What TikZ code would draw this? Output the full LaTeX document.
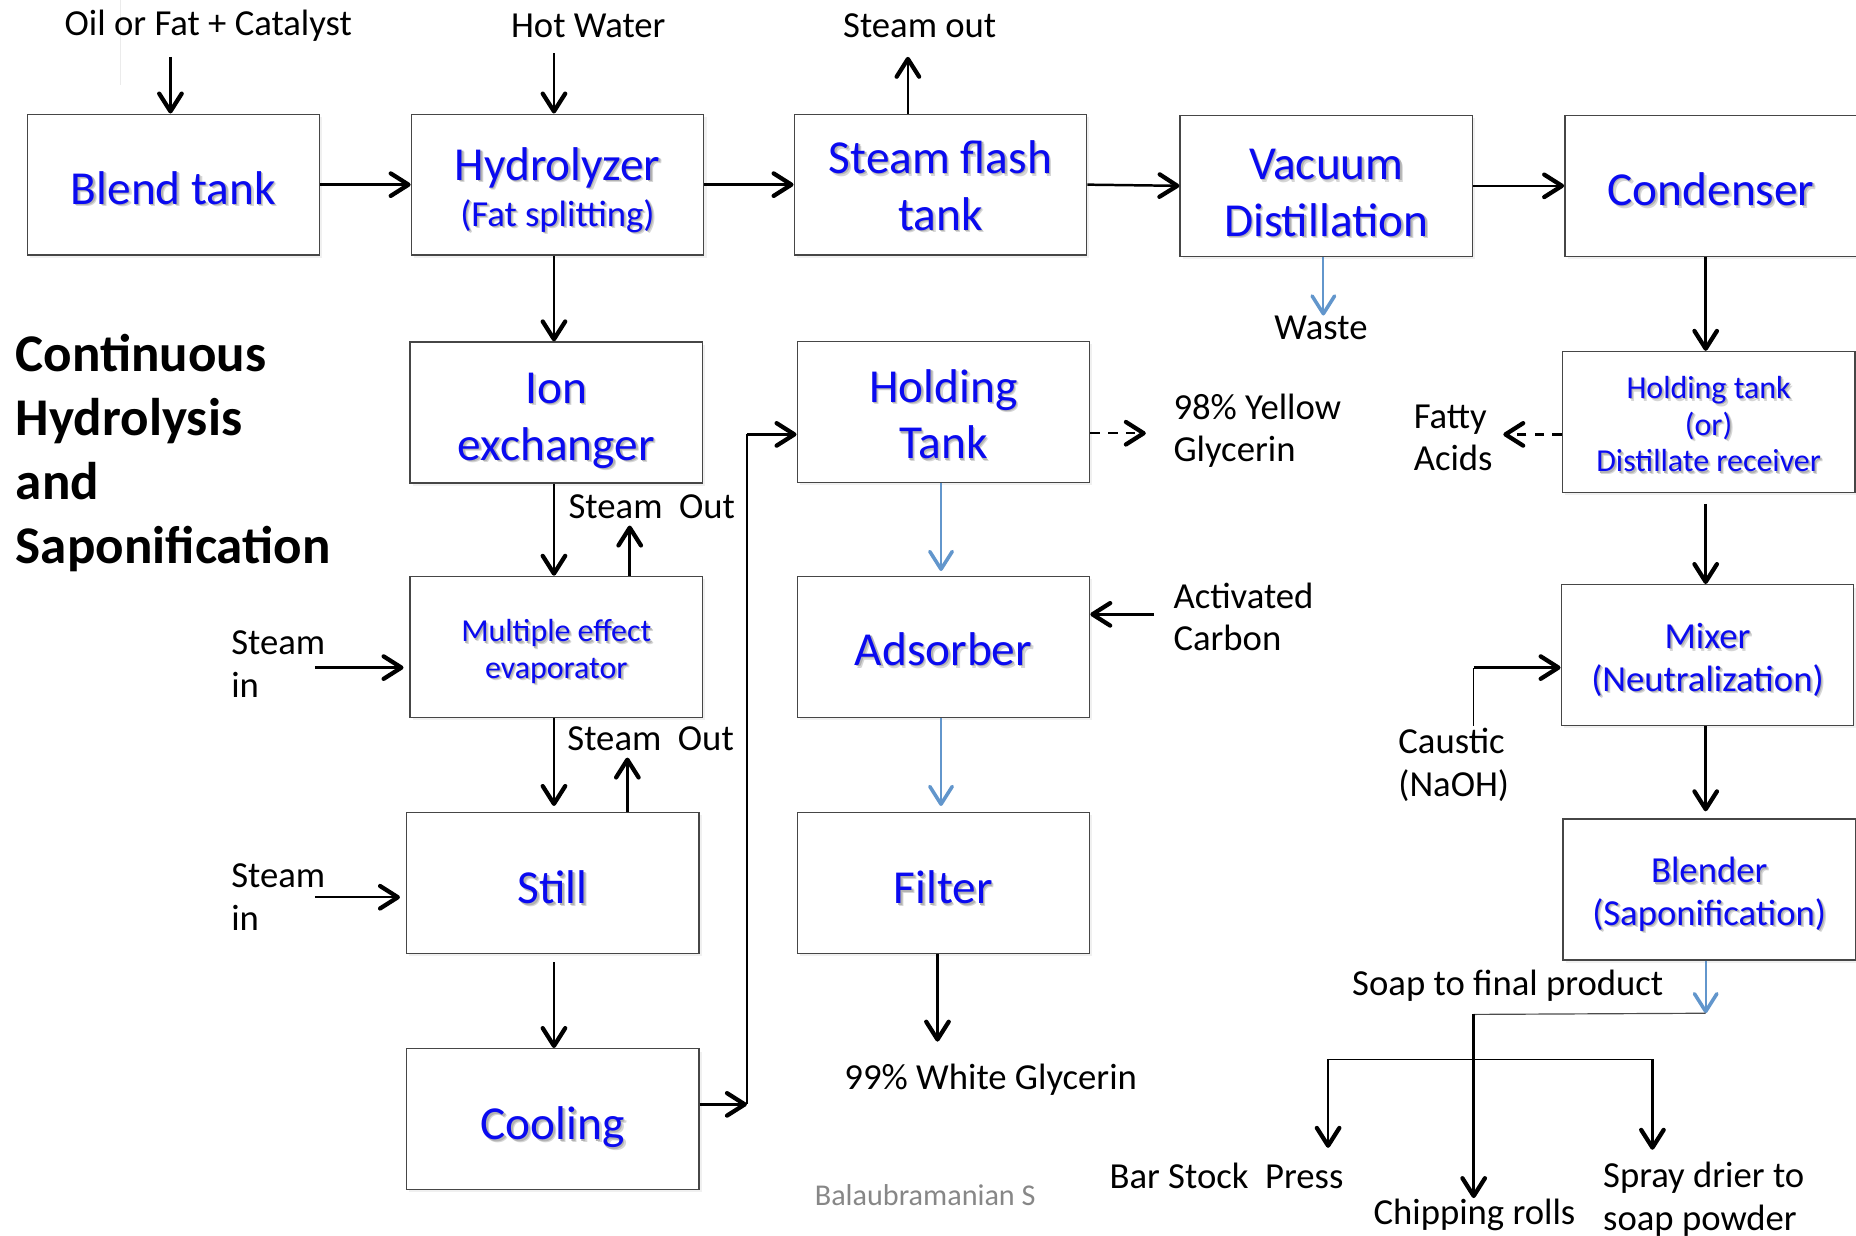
\documentclass[tikz,border=0pt]{standalone}
\usepackage{fontspec}
\setmainfont{Carlito}
\usetikzlibrary{arrows.meta,shadows}

\definecolor{tblue}{RGB}{10,10,240}
\definecolor{fblue}{RGB}{98,150,204}
\definecolor{edgegray}{RGB}{70,70,70}
\definecolor{signgray}{RGB}{135,135,135}

% font sizes
\newcommand\fbig{\fontsize{20}{24}\selectfont}
\newcommand\fmid{\fontsize{15.5}{18}\selectfont}
\newcommand\fsm{\fontsize{13.5}{15.5}\selectfont}
\newcommand\ftitle{\fontsize{22.4}{27}\selectfont\bfseries}

% blue label with a soft grey drop shadow, inked a little below its box
\def\shdrop{2.5pt}
\newcommand\sh[1]{\leavevmode\raisebox{-\shdrop}[\height][\depth]{\rlap{\kern1.1pt\raisebox{-1.1pt}{\color{black!16}#1}}\rlap{\kern0.6pt\raisebox{-0.6pt}{\color{black!30}#1}}#1}}

\begin{document}
\begin{tikzpicture}[x=0.5pt,y=-0.5pt,
  procbox/.style={draw=edgegray, line width=0.6pt, fill=white,
    minimum width=123.5pt, minimum height=59.5pt, inner sep=0pt,
    text=tblue, align=center, font=\fbig,
    drop shadow={opacity=0.12, shadow xshift=1.2pt, shadow yshift=-1.2pt}},
  txtdrop/.code={\def\shdrop{#1}},
  lbl/.style={inner sep=0pt, font=\fmid, align=left, text=black},
  arr/.style={line width=1.05pt, -{Straight Barb[length=7.5pt,width=9.5pt,line width=1.8pt,round]}},
  barr/.style={draw=fblue, line width=0.8pt, -{Straight Barb[length=7.5pt,width=9.5pt,line width=1.5pt,round]}},
  darr/.style={arr, dash pattern=on 4pt off 3.5pt},
  thinl/.style={line width=0.5pt}]

\useasboundingbox (0,0) rectangle (1568,1044);
\draw[black!8, line width=0.5pt] (102,0) -- (102,72);

% ---- process units ----
\node[procbox, txtdrop=2pt] (blend) at (146.5,156) {\sh{Blend tank}};
\node[procbox, txtdrop=2.75pt] (hydro) at (471,156) {\sh{Hydrolyzer}\\[-4.5pt]{\fmid\sh{(Fat splitting)}}};
\node[procbox, txtdrop=1pt] (flash) at (794.5,156) {\sh{Steam flash}\\\sh{tank}};
\node[procbox, txtdrop=3.5pt] (vac) at (1120.5,157) {\sh{Vacuum}\\\sh{Distillation}};
\node[procbox, txtdrop=2pt] (cond) at (1445.5,157) {\sh{Condenser}};
\node[procbox, txtdrop=4pt] (ion) at (470,348.5) {\sh{Ion}\\\sh{exchanger}};
\node[procbox, txtdrop=1.5pt] (hold) at (797,348) {\sh{Holding}\\\sh{Tank}};
\node[procbox, font=\fsm, txtdrop=1.5pt] (recv) at (1443.5,356.5) {\sh{Holding tank}\\\sh{(or)}\\\sh{Distillate receiver}};
\node[procbox, font=\fsm, txtdrop=2.5pt] (mee) at (470,546.5) {\sh{Multiple effect}\\\sh{evaporator}};
\node[procbox, txtdrop=1.5pt] (ads) at (797,546.5) {\sh{Adsorber}};
\node[procbox, font=\fmid, txtdrop=2.5pt] (mix) at (1442.5,553.5) {\sh{Mixer}\\\sh{(Neutralization)}};
\node[procbox, txtdrop=2.5pt] (still) at (467,746) {\sh{Still}};
\node[procbox, txtdrop=2.5pt] (filt) at (797,746) {\sh{Filter}};
\node[procbox, font=\fmid, txtdrop=2.5pt] (blender) at (1444,751.5) {\sh{Blender}\\\sh{(Saponification)}};
\node[procbox, txtdrop=4pt] (cool) at (467,945.5) {\sh{Cooling}};

% ---- stream labels ----
\node[lbl] (oil) at (176,22) {Oil or Fat + Catalyst};
\node[lbl] (hot) at (497,22) {Hot Water};
\node[lbl] (stout) at (777,22) {Steam out};
\node[lbl] (waste) at (1116,277) {Waste};
\node[lbl, font=\ftitle, anchor=west] (title) at (13,383) {Continuous\\Hydrolysis\\and\\Saponification};
\node[lbl, anchor=west] (yellow) at (991,364) {98\% Yellow\\Glycerin};
\node[lbl, anchor=west] (fatty) at (1194,370) {Fatty\\Acids};
\node[lbl, anchor=west] (sout1) at (480,428) {Steam\ \ Out};
\node[lbl, anchor=west] (sout2) at (479,624) {Steam\ \ Out};
\node[lbl, anchor=west] (sin1) at (195,561) {Steam\\in};
\node[lbl, anchor=west] (sin2) at (195,758) {Steam\\in};
\node[lbl, anchor=west] (carbon) at (991,521) {Activated\\Carbon};
\node[lbl, anchor=west] (caustic) at (1181,646) {Caustic\\(NaOH)};
\node[lbl, anchor=west] (soap) at (1142,833) {Soap to final product};
\node[lbl, anchor=west] (white) at (713,912) {99\% White Glycerin};
\node[lbl, anchor=west] (bar) at (937,993) {Bar Stock\ \ Press};
\node[lbl, anchor=west] (chip) at (1160,1026) {Chipping rolls};
\node[lbl, anchor=west] (spray) at (1354,1013) {Spray drier to\\soap powder};
\node[lbl, anchor=west, font=\fontsize{12.75}{15}\selectfont, text=signgray] (sign) at (688,1010) {Balaubramanian S};

% ---- junctions and free ends ----
\coordinate (oilS) at (144,48);
\coordinate (hotS) at (468,45);
\coordinate (flashU) at (767,48);
\coordinate (wasteA) at (1118,0);
\coordinate (ionA) at (468,0);
\coordinate (rcol) at (1441,0);
\coordinate (soapJ) at (1441,856);
\coordinate (chipJ) at (1245,857);
\coordinate (barJ) at (1122,895);
\coordinate (sprJ) at (1396,895);
\coordinate (causJ) at (1245,613);
\coordinate (causK) at (1245,564);
\coordinate (fatJ) at (1270,367);
\coordinate (so1) at (532,444);
\coordinate (so2) at (530,640);
\coordinate (si1) at (266,564);
\coordinate (si2) at (266,758);
\coordinate (coolJ) at (631,933);
\coordinate (holdJ) at (631,367);
\coordinate (yelJ) at (968,366);
\coordinate (adsA) at (795,0);
\coordinate (carbJ) at (975,519);
\coordinate (whiteJ) at (792,880);

% ---- top line: hydrolysis and fatty acid distillation ----
\draw[arr] (oilS) -- (oilS |- blend.north);
\draw[arr] (hotS) -- (hotS |- hydro.north);
\draw[arr] (flashU |- flash.north) -- (flashU);
\draw[arr] (blend.east) -- (hydro.west);
\draw[arr] (hydro.east) -- (flash.west);
\draw[arr] (flash.east) -- (vac.west);
\draw[arr] (vac.east) -- (cond.west);
\draw[barr] (vac.south -| wasteA) -- (waste.north -| wasteA);

% ---- fatty acid to soap ----
\draw[arr] (cond.south -| rcol) -- (recv.north -| rcol);
\draw[darr] (fatJ -| recv.west) -- (fatJ);
\draw[arr, shorten <=4.5pt] (recv.south -| rcol) -- (mix.north -| rcol);
\draw[thinl] (causJ) -- (causK);
\draw[arr] (causK) -- (causK -| mix.west);
\draw[arr, shorten >=3pt] (mix.south -| rcol) -- (blender.north -| rcol);
\draw[barr] (blender.south -| soapJ) -- (soapJ);
\draw[thinl, draw=black!70] (soapJ) -- (chipJ);
\draw[arr] (chipJ) -- (chip.north -| chipJ);
\draw[thinl] (barJ) -- (sprJ);
\draw[arr, shorten >=6pt] (barJ) -- (barJ |- bar.north);
\draw[arr, shorten >=5pt] (sprJ) -- (sprJ |- spray.north);

% ---- sweet water to glycerin ----
\draw[arr] (hydro.south -| ionA) -- (ion.north -| ionA);
\draw[arr] (ion.south -| ionA) -- (mee.north -| ionA);
\draw[arr] (mee.north -| so1) -- (so1);
\draw[arr, shorten >=2.5pt] (si1) -- (si1 -| mee.west);
\draw[arr, shorten >=2.5pt] (mee.south -| ionA) -- (still.north -| ionA);
\draw[arr] (still.north -| so2) -- (so2);
\draw[arr, shorten >=2.5pt] (si2) -- (si2 -| still.west);
\draw[arr, shorten <=3.5pt] (still.south -| ionA) -- (cool.north -| ionA);
\draw[arr] (coolJ -| cool.east) -- (coolJ);
\draw[thinl] (coolJ) -- (holdJ);
\draw[arr] (holdJ) -- (holdJ -| hold.west);
\draw[darr] (yelJ -| hold.east) -- (yelJ);
\draw[barr, shorten >=2pt] (hold.south -| adsA) -- (ads.north -| adsA);
\draw[arr, line width=1.5pt] (carbJ) -- (carbJ -| ads.east);
\draw[barr, shorten >=2.5pt] (ads.south -| adsA) -- (filt.north -| adsA);
\draw[arr] (filt.south -| whiteJ) -- (whiteJ);

\end{tikzpicture}
\end{document}
